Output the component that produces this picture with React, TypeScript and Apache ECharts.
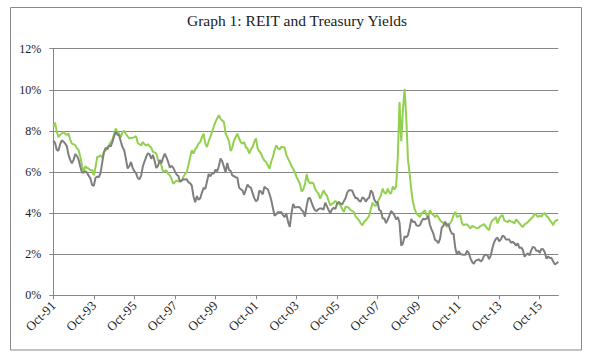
import React, { useEffect, useRef } from "react";
import * as echarts from "echarts";

const START_YEAR = 1991;
const START_MONTH = 9; // October (0-based)
const MONTH_NAMES = ["Jan", "Feb", "Mar", "Apr", "May", "Jun", "Jul", "Aug", "Sep", "Oct", "Nov", "Dec"];

// REIT dividend yield (%), monthly from Oct-91
const reitYield = [
  8.2, 8.4, 8.0, 7.7, 7.8, 7.87, 7.95, 7.85, 7.8, 7.87, 7.58, 7.38,
  7.35, 7.3, 7.15, 7.06, 6.73, 6.33, 6.0, 6.28, 6.2, 6.16, 6.08, 6.1,
  5.84, 6.24, 6.73, 6.75, 6.81, 6.7, 6.98, 7.06, 7.2, 7.3, 7.45, 7.58,
  7.85, 8.11, 7.95, 7.87, 7.7, 7.95, 8.0, 7.85, 7.74, 7.63, 7.65, 7.67,
  7.7, 7.74, 7.41, 7.35, 7.3, 7.46, 7.35, 7.3, 7.35, 7.25, 7.19, 6.98,
  6.95, 6.9, 6.57, 6.45, 6.33, 6.0, 6.05, 6.08, 5.9, 5.84, 5.67, 5.43,
  5.5, 5.59, 5.55, 5.54, 5.59, 5.76, 5.9, 6.0, 6.33, 6.7, 7.06, 6.9,
  7.1, 7.22, 7.38, 7.46, 7.7, 7.87, 7.38, 7.22, 7.5, 7.71, 7.95, 8.2,
  8.44, 8.6, 8.76, 8.6, 8.5, 8.44, 7.87, 7.71, 7.5, 7.02, 7.2, 7.54,
  7.7, 7.87, 7.63, 7.45, 7.38, 7.46, 7.2, 7.14, 6.9, 7.1, 7.22, 7.46,
  7.63, 7.14, 7.0, 6.9, 6.7, 6.55, 6.49, 6.33, 6.16, 6.5, 6.73, 7.06,
  7.3, 7.15, 7.1, 7.22, 7.2, 7.19, 6.82, 6.65, 6.49, 6.3, 6.16, 6.0,
  5.76, 5.6, 5.43, 5.05, 5.15, 5.4, 5.9, 5.55, 5.45, 5.5, 5.45, 5.19,
  5.05, 4.95, 4.7, 4.9, 5.11, 4.95, 4.85, 4.6, 4.38, 4.45, 4.5, 4.6,
  4.5, 4.45, 4.38, 4.2, 4.06, 4.3, 4.3, 4.25, 4.15, 4.1, 4.06, 3.83,
  3.75, 3.65, 3.5, 3.41, 3.57, 3.65, 3.75, 3.86, 4.2, 4.5, 4.38, 4.35,
  4.55, 4.7, 4.87, 5.19, 5.0, 4.95, 5.19, 5.0, 4.95, 5.3, 5.15, 5.3,
  6.8, 9.4, 7.5, 9.0, 10.05, 8.6, 6.6, 5.9, 5.1, 4.5, 4.2, 3.98,
  3.9, 3.81, 3.98, 4.05, 4.14, 3.9, 3.81, 4.14, 3.98, 3.9, 3.81, 3.9,
  3.8, 3.65, 3.57, 3.52, 3.45, 3.33, 3.45, 3.5, 3.65, 3.9, 4.06, 3.81,
  3.85, 3.9, 3.5, 3.41, 3.45, 3.45, 3.35, 3.25, 3.38, 3.33, 3.3, 3.25,
  3.3, 3.38, 3.41, 3.46, 3.35, 3.25, 3.17, 3.5, 3.65, 3.7, 3.81, 3.5,
  3.73, 3.85, 3.9, 3.65, 3.6, 3.57, 3.65, 3.6, 3.57, 3.5, 3.7, 3.6,
  3.5, 3.4, 3.33, 3.45, 3.5, 3.57, 3.65, 3.75, 3.81, 3.98, 3.9, 3.81,
  3.88, 3.83, 3.95, 4.0, 3.85, 3.8, 3.65, 3.55, 3.41, 3.6, 3.65, 3.68,
];

// 10-year Treasury yield (%), monthly from Oct-91
const treasuryYield = [
  7.53, 7.42, 7.09,
  7.03, 7.34, 7.54, 7.48, 7.39, 7.26, 6.84, 6.59, 6.42, 6.59, 6.87, 6.77,
  6.6, 6.26, 5.98, 5.97, 6.04, 5.96, 5.81, 5.68, 5.36, 5.33, 5.72, 5.77,
  5.75, 5.97, 6.48, 6.97, 7.18, 7.1, 7.3, 7.24, 7.46, 7.74, 7.96, 7.81,
  7.78, 7.47, 7.2, 7.06, 6.63, 6.17, 6.28, 6.49, 6.2, 6.04, 5.93, 5.71,
  5.65, 5.81, 6.27, 6.51, 6.74, 6.91, 6.87, 6.64, 6.83, 6.53, 6.2, 6.3,
  6.58, 6.42, 6.69, 6.89, 6.71, 6.49, 6.22, 6.3, 6.21, 6.03, 5.88, 5.81,
  5.54, 5.57, 5.65, 5.64, 5.65, 5.5, 5.46, 5.34, 4.81, 4.53, 4.83, 4.65,
  4.72, 5.0, 5.23, 5.18, 5.54, 5.9, 5.79, 5.94, 5.92, 6.11, 6.03, 6.28,
  6.66, 6.52, 6.26, 5.99, 6.44, 6.1, 6.05, 5.83, 5.8, 5.74, 5.72, 5.24,
  5.16, 5.1, 4.89, 5.14, 5.39, 5.28, 5.24, 4.97, 4.73, 4.57, 4.65, 5.09,
  5.04, 4.91, 5.28, 5.21, 5.16, 4.93, 4.65, 4.26, 3.87, 3.94, 4.05, 4.03,
  4.05, 3.9, 3.81, 3.96, 3.57, 3.33, 3.98, 4.45, 4.27, 4.29, 4.3, 4.27,
  4.15, 4.08, 3.83, 4.35, 4.72, 4.73, 4.5, 4.28, 4.13, 4.1, 4.19, 4.23,
  4.22, 4.17, 4.5, 4.34, 4.14, 4.0, 4.18, 4.26, 4.2, 4.46, 4.54, 4.47,
  4.42, 4.57, 4.72, 4.99, 5.11, 5.11, 5.09, 4.88, 4.72, 4.73, 4.6, 4.56,
  4.76, 4.72, 4.56, 4.69, 4.75, 5.1, 5.0, 4.67, 4.52, 4.53, 4.15, 4.1,
  3.74, 3.74, 3.51, 3.68, 3.88, 4.1, 4.01, 3.89, 3.69, 3.81, 3.53, 2.42,
  2.52, 2.87, 2.82, 2.93, 3.29, 3.72, 3.56, 3.59, 3.4, 3.39, 3.4, 3.59,
  3.73, 3.69, 3.73, 3.85, 3.42, 3.2, 3.01, 2.7, 2.65, 2.54, 2.76, 3.29,
  3.39, 3.58, 3.41, 3.46, 3.17, 3.0, 3.0, 2.3, 1.98, 2.15, 2.01, 1.98,
  1.97, 1.97, 2.17, 2.05, 1.8, 1.62, 1.53, 1.68, 1.72, 1.75, 1.65, 1.72,
  1.91, 1.98, 1.96, 1.76, 1.93, 2.3, 2.58, 2.74, 2.81, 2.62, 2.72, 2.9,
  2.86, 2.71, 2.72, 2.71, 2.56, 2.6, 2.54, 2.42, 2.53, 2.3, 2.33, 2.21,
  1.88, 1.98, 2.04, 1.94, 2.2, 2.36, 2.32, 2.17, 2.17, 2.07, 2.26, 2.24,
  2.09, 1.78, 1.89, 1.81, 1.81, 1.64, 1.5, 1.56, 1.63,
];

const yTicks = { min: 0, max: 12, interval: 2 };
const titleText = "Graph 1: REIT and Treasury Yields";

function monthLabels(n: number): string[] {
  const out: string[] = [];
  for (let k = 0; k < n; k++) {
    const m = START_MONTH + k;
    const y = START_YEAR + Math.floor(m / 12);
    out.push(MONTH_NAMES[m % 12] + "-" + String(y % 100).padStart(2, "0"));
  }
  return out;
}

export default function App() {
  const ref = useRef<HTMLDivElement>(null);
  useEffect(() => {
    if (!ref.current) return;
    const chart = echarts.init(ref.current, null, { renderer: "svg" });
    const categories = monthLabels(treasuryYield.length);
    const axisGray = "#868686";
    const font = "'Liberation Serif', 'DejaVu Serif', serif";
    chart.setOption({
      animation: false,
      backgroundColor: "#ffffff",
      textStyle: { fontFamily: font },
      graphic: [
        {
          type: "rect",
          shape: { x: 10.5, y: 7.5, width: 571, height: 342.5 },
          style: { fill: "none", stroke: "#8a8a8a", lineWidth: 1 },
          silent: true,
        },
        {
          type: "text",
          x: 297,
          y: 20,
          style: {
            text: titleText,
            fontFamily: font,
            fontSize: 15.5,
            fill: "#1a1a1a",
            textAlign: "center",
            textVerticalAlign: "middle",
          },
        },
      ],
      grid: { left: 53.3, right: 31.7, top: 48.7, bottom: 61.7, containLabel: false },
      xAxis: {
        type: "category",
        data: categories,
        boundaryGap: false,
        axisLine: { show: true, lineStyle: { color: axisGray, width: 1 } },
        axisTick: { show: true, interval: 23, length: 4, lineStyle: { color: axisGray } },
        axisLabel: {
          interval: 23,
          rotate: 45,
          fontSize: 13,
          fontFamily: font,
          color: "#1a1a1a",
          margin: 8,
        },
        splitLine: { show: false },
      },
      yAxis: {
        type: "value",
        min: yTicks.min,
        max: yTicks.max,
        interval: yTicks.interval,
        axisLine: { show: true, lineStyle: { color: axisGray, width: 1 } },
        axisTick: { show: true, length: 4, lineStyle: { color: axisGray } },
        axisLabel: {
          formatter: "{value}%",
          fontSize: 12,
          fontFamily: font,
          color: "#1a1a1a",
          margin: 12,
        },
        splitLine: { show: true, lineStyle: { color: axisGray, width: 1 } },
      },
      series: [
        {
          name: "REIT Yield",
          type: "line",
          data: reitYield,
          showSymbol: false,
          symbol: "none",
          lineStyle: { color: "#92D050", width: 2 },
          itemStyle: { color: "#92D050" },
        },
        {
          name: "10-Year Treasury Yield",
          type: "line",
          data: treasuryYield,
          showSymbol: false,
          symbol: "none",
          lineStyle: { color: "#7F7F7F", width: 2 },
          itemStyle: { color: "#7F7F7F" },
        },
      ],
    });
    return () => chart.dispose();
  }, []);
  return (
    <div
      ref={ref}
      style={{ position: "fixed", left: 0, top: 0, width: 590, height: 357, background: "#fff" }}
    />
  );
}
